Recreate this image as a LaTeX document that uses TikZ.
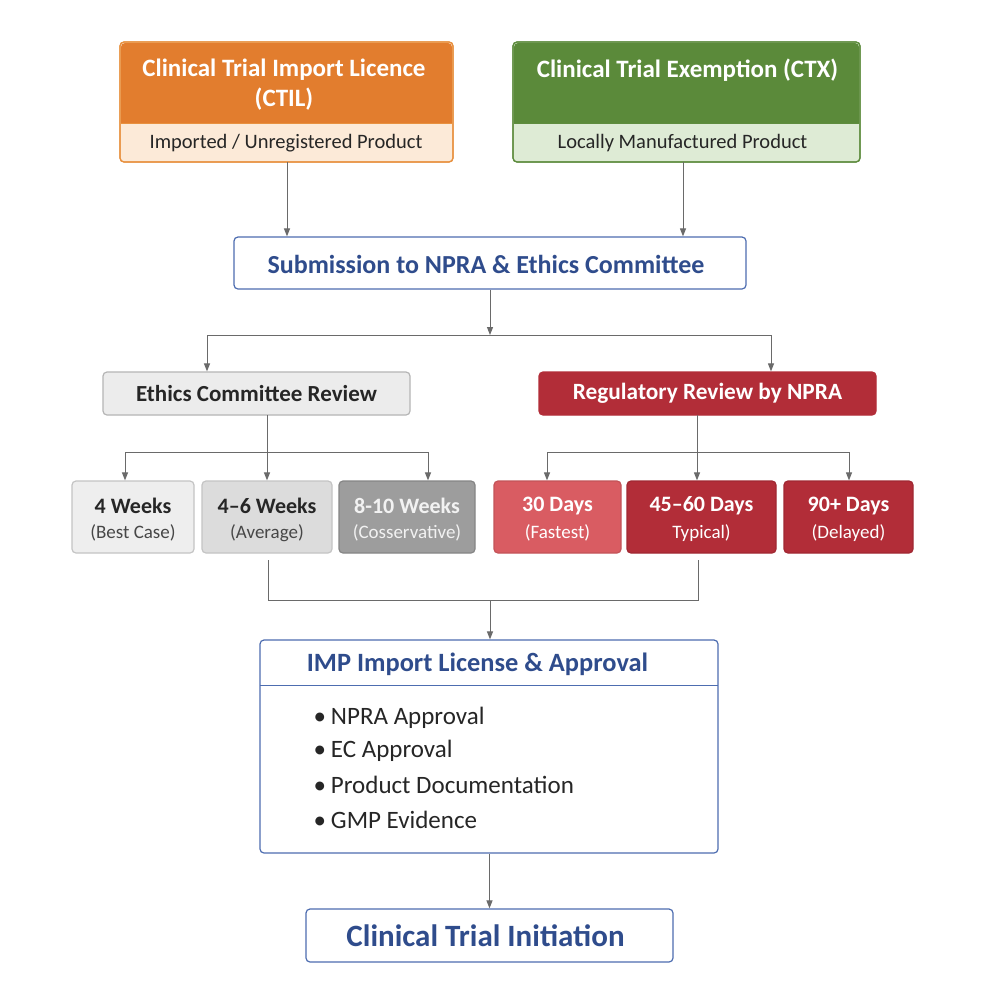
\documentclass[tikz,border=0pt]{standalone}
\usepackage{fontspec}
\setmainfont{Carlito}
\usetikzlibrary{arrows.meta,positioning,calc}
\definecolor{orangeH}{HTML}{E27D2E}
\definecolor{orangeL}{HTML}{FCEAD8}
\definecolor{orangeB}{HTML}{E8913F}
\definecolor{greenH}{HTML}{5B8A3A}
\definecolor{greenL}{HTML}{DEEBD5}
\definecolor{greenB}{HTML}{5E8C3E}
\definecolor{blueT}{HTML}{2F4C8C}
\definecolor{blueB}{HTML}{4D6DB0}
\definecolor{lineG}{HTML}{6A6A6A}
\definecolor{ethF}{HTML}{ECECEC}
\definecolor{ethB}{HTML}{B5B5B5}
\definecolor{redD}{HTML}{B22D38}
\definecolor{redL}{HTML}{D95C62}
\definecolor{gA}{HTML}{EEEEEE}
\definecolor{gB}{HTML}{DCDCDC}
\definecolor{gC}{HTML}{9D9D9D}
\definecolor{txtD}{HTML}{262626}
\newcommand{\fs}[1]{\fontsize{#1}{#1}\selectfont}
\tikzset{
  boxbase/.style={rectangle, rounded corners=4pt, line width=1.2pt, inner sep=0pt},
  line/.style={draw=lineG, line width=1pt},
  arr/.style={line, -{Triangle[length=8pt,width=6pt]}},
  rowtop/.style={font=\fs{22}\bfseries},
  rowbot/.style={font=\fs{19}},
}
\begin{document}
\begin{tikzpicture}[x=1pt,y=-1pt]
\useasboundingbox[fill=white] (0,0) rectangle (1008,986);

% ---- CTIL
\node[boxbase, draw=orangeB, fill=orangeL, minimum width=333pt, minimum height=120pt] (ctil) at (286.5,102) {};
\fill[orangeH] (121,123) [rounded corners=4pt] -- (121,43) -- (452,43) [sharp corners] -- (452,123) -- cycle;
\draw[orangeB, line width=0.8pt] (121,123) -- (452,123);
\node[boxbase, draw=orangeB, minimum width=333pt, minimum height=120pt] at (286.5,102) {};
\node[font=\fs{25}\bfseries, text=white, align=center] (ctilT) at (284,85) {Clinical Trial Import Licence\\[5pt](CTIL)};
\node[font=\fs{20.5}, text=txtD] (ctilS) at (286,143) {Imported / Unregistered Product};

% ---- CTX
\node[boxbase, draw=greenB, fill=greenL, minimum width=347pt, minimum height=120pt] (ctx) at (686.5,102) {};
\fill[greenH] (514,123) [rounded corners=4pt] -- (514,43) -- (859,43) [sharp corners] -- (859,123) -- cycle;
\draw[greenB, line width=0.8pt] (514,123) -- (859,123);
\node[boxbase, draw=greenB, minimum width=347pt, minimum height=120pt] at (686.5,102) {};
\node[font=\fs{25}\bfseries, text=white] (ctxT) at (687.5,70) {Clinical Trial Exemption (CTX)};
\node[font=\fs{20.5}, text=txtD] (ctxS) at (682.5,143) {Locally Manufactured Product};

% ---- Submission
\node[boxbase, draw=blueB, fill=white, minimum width=512pt, minimum height=52pt] (sub) at (490,263) {};
\node[font=\fs{26}\bfseries, text=blueT] (subT) at (486,264) {Submission to NPRA \& Ethics Committee};

\coordinate (ctilOut) at (287,162);
\coordinate (ctxOut) at (683,162);
\draw[arr] (ctilOut) -- (ctilOut |- sub.north);
\draw[arr] (ctxOut) -- (ctxOut |- sub.north);

% ---- Review boxes
\node[boxbase, draw=ethB, fill=ethF, minimum width=307pt, minimum height=43pt, font=\fs{23}\bfseries, text=txtD] (eth) at (256.5,393.5) {Ethics Committee Review};
\node[boxbase, draw=redD, fill=redD, minimum width=337pt, minimum height=43pt, font=\fs{23.3}\bfseries, text=white] (npra) at (707.5,393.5) {Regulatory Review by NPRA};

\coordinate (j1) at (490,335);
\coordinate (jL) at (207,335);
\coordinate (jR) at (771,335);
\draw[arr] (sub.south) -- (j1);
\draw[line] (jL) -- (jR);
\draw[arr] (jL) -- (jL |- eth.north);
\draw[arr] (jR) -- (jR |- npra.north);

% ---- Row boxes
\node[boxbase, draw=ethB!80, fill=gA, minimum width=122pt, minimum height=72pt] (w4) at (133,517) {};
\node[boxbase, draw=ethB!80, fill=gB, minimum width=130pt, minimum height=72pt] (w46) at (267,517) {};
\node[boxbase, draw=gC!85!black, fill=gC, minimum width=136pt, minimum height=72pt] (w810) at (407,517) {};
\node[boxbase, draw=redL!90!black, fill=redL, minimum width=127pt, minimum height=72pt] (d30) at (557.5,517) {};
\node[boxbase, draw=redD!90!black, fill=redD, minimum width=149pt, minimum height=72pt] (d4560) at (701.5,517) {};
\node[boxbase, draw=redD!90!black, fill=redD, minimum width=129pt, minimum height=72pt] (d90) at (848.5,517) {};

\node[rowtop, text=txtD] (w4a) at (133,506) {4 Weeks};
\node[rowbot, text=txtD!85] (w4b) at (133,533) {(Best Case)};
\node[rowtop, text=txtD] (w46a) at (267,506) {4–6 Weeks};
\node[rowbot, text=txtD!85] (w46b) at (267,533) {(Average)};
\node[rowtop, text=gray!10] (w810a) at (407,506) {8-10 Weeks};
\node[rowbot, text=gray!10] (w810b) at (407,533) {(Cosservative)};
\node[rowtop, text=white] (d30a) at (557.5,506) {30 Days};
\node[rowbot, text=white] (d30b) at (557.5,533) {(Fastest)};
\node[rowtop, text=white] (d4560a) at (701.5,506) {45–60 Days};
\node[rowbot, text=white] (d4560b) at (701.5,533) {Typical)};
\node[rowtop, text=white] (d90a) at (848.5,506) {90+ Days};
\node[rowbot, text=white] (d90b) at (848.5,533) {(Delayed)};

% ethics splits
\coordinate (eOut) at (267,415);
\coordinate (eL) at (125,452);
\coordinate (eR) at (428,452);
\draw[line] (eL) -- (eR);
\draw[arr] (eOut) -- (eOut |- w46.north);
\draw[arr] (eL) -- (eL |- w4.north);
\draw[arr] (eR) -- (eR |- w810.north);
% npra splits
\coordinate (nOut) at (697,415);
\coordinate (nL) at (547,452);
\coordinate (nR) at (849,452);
\draw[line] (nL) -- (nR);
\draw[arr] (nOut) -- (nOut |- d4560.north);
\draw[arr] (nL) -- (nL |- d30.north);
\draw[arr] (nR) -- (nR |- d90.north);

% ---- IMP box
\node[boxbase, draw=blueB, fill=white, minimum width=458pt, minimum height=213pt] (imp) at (489,746.5) {};
\draw[blueB, line width=0.8pt] (260,685) -- (718,685);
\node[font=\fs{26.4}\bfseries, text=blueT] (impT) at (477.5,664) {IMP Import License \& Approval};
\node[font=\fs{25}, text=txtD, anchor=west] (b1) at (310,718) {\textbullet\hspace{5pt}NPRA Approval};
\node[font=\fs{25}, text=txtD, anchor=west] (b2) at (310,751) {\textbullet\hspace{5pt}EC Approval};
\node[font=\fs{25}, text=txtD, anchor=west] (b3) at (310,785) {\textbullet\hspace{5pt}Product Documentation};
\node[font=\fs{25}, text=txtD, anchor=west] (b4) at (310,820) {\textbullet\hspace{5pt}GMP Evidence};

% merge into IMP
\coordinate (mL) at (268,600);
\coordinate (mR) at (698,600);
\coordinate (mC) at (490,600);
\draw[line] (268,560) -- (mL) -- (mR) -- (698,560);
\draw[arr] (mC) -- (mC |- imp.north);

% ---- CTI
\node[boxbase, draw=blueB, fill=white, minimum width=367pt, minimum height=53pt] (cti) at (489.5,935.5) {};
\node[font=\fs{31}\bfseries, text=blueT] (ctiT) at (485.5,936) {Clinical Trial Initiation};
\draw[arr] (imp.south -| cti.north) -- (cti.north);
\end{tikzpicture}
\end{document}
